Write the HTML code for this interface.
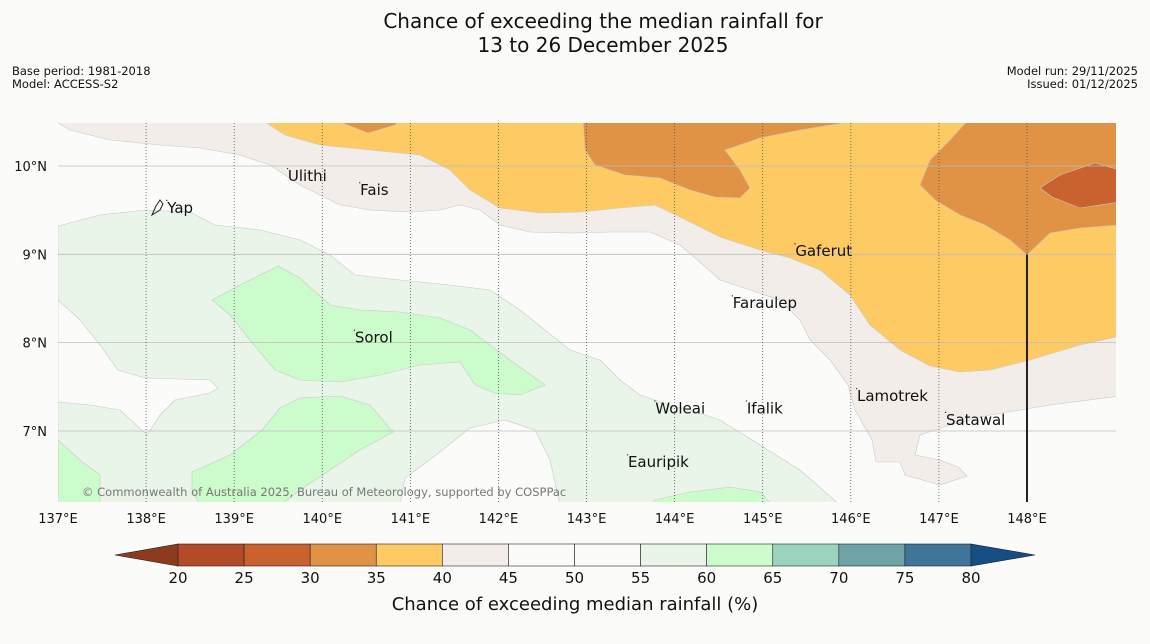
<!DOCTYPE html>
<html><head><meta charset="utf-8">
<style>
body{margin:0;background:#fbfcfa;}
svg{display:block;font-family:"DejaVu Sans","Liberation Sans",sans-serif;}
</style></head>
<body>
<svg id="chart" width="1150" height="644" viewBox="0 0 1150 644" xmlns="http://www.w3.org/2000/svg">
<rect width="1150" height="644" fill="#fbfcfa"/>
<text x="603" y="28" text-anchor="middle" font-size="20" fill="#111">Chance of exceeding the median rainfall for</text>
<text x="603" y="52" text-anchor="middle" font-size="20" fill="#111">13 to 26 December 2025</text>
<text x="12" y="75" font-size="11.5" fill="#111">Base period: 1981-2018</text>
<text x="12" y="88" font-size="11.5" fill="#111">Model: ACCESS-S2</text>
<text x="1138" y="75" text-anchor="end" font-size="11.5" fill="#111">Model run: 29/11/2025</text>
<text x="1138" y="88" text-anchor="end" font-size="11.5" fill="#111">Issued: 01/12/2025</text>
<defs><clipPath id="mapclip"><rect x="58" y="123" width="1058" height="379"/></clipPath></defs>
<g id="map" clip-path="url(#mapclip)"></g>
<g id="overlay"></g>
<g id="cbar"></g>
<text x="575" y="610" text-anchor="middle" font-size="18" fill="#111">Chance of exceeding median rainfall (%)</text>
</svg>
<script>
const NS="http://www.w3.org/2000/svg";
// axis data
const lonTicks=[137,138,139,140,141,142,143,144,145,146,147,148];
const latTicks=[7,8,9,10];
const cbarBounds=[20,25,30,35,40,45,50,55,60,65,70,75,80];
const cbarColors=["#b34b29","#c9622f","#e09245","#fdca63","#f2ede8","#fbfcfa","#fbfcfa","#e9f5e9","#ccfccc","#9bd3bc","#6fa3a8","#3e7599"];
// projection
function X(lon){return 58+(lon-137)*88.09;}
function Y(lat){return 166+(10-lat)*88.33;}
function P(px,py){return [137+(px-58)/88.09,10-(py-166)/88.33];}
// contour regions
const r5560=[[58,226],[100,215],[145,210],[190,212],[215,225],[260,230],[300,240],[330,255],[355,275],[400,280],[450,285],[490,290],[520,310],[545,330],[570,350],[600,360],[620,380],[640,395],[670,405],[690,410],[720,420],[760,445],[800,470],[840,505],[58,505]].map(p=>P(p[0],p[1]));
const rWhite1=[[58,300],[80,320],[100,345],[118,370],[145,378],[210,380],[218,388],[210,393],[175,400],[160,415],[147,435],[120,410],[90,405],[58,402]].map(p=>P(p[0],p[1]));
const rWhite2=[[405,478],[440,452],[470,428],[505,420],[535,430],[550,460],[560,505],[400,505]].map(p=>P(p[0],p[1]));
const g1=[[212,300],[240,285],[278,266],[300,278],[330,305],[360,310],[400,312],[440,318],[470,330],[510,360],[545,385],[520,395],[495,393],[475,385],[460,362],[420,365],[380,375],[340,382],[300,380],[275,370],[250,340],[230,315]].map(p=>P(p[0],p[1]));
const g2=[[192,472],[230,455],[262,430],[280,408],[300,398],[340,396],[370,405],[393,432],[360,450],[330,470],[300,490],[280,505],[200,505],[192,490]].map(p=>P(p[0],p[1]));
const g3=[[58,440],[80,460],[100,475],[100,505],[58,505]].map(p=>P(p[0],p[1]));
const g4=[[655,500],[690,492],[730,487],[760,492],[772,505],[650,505]].map(p=>P(p[0],p[1]));
const beige=[[55,120],[58,123],[70,130],[110,140],[160,145],[200,148],[240,155],[270,165],[300,185],[320,195],[340,205],[370,210],[410,212],[440,210],[460,205],[480,210],[500,225],[530,232],[570,233],[610,232],[650,232],[680,245],[700,262],[720,280],[750,290],[780,300],[800,320],[810,340],[830,360],[848,385],[855,410],[872,440],[876,462],[900,462],[905,475],[940,485],[967,476],[958,467],[940,460],[915,455],[920,435],[950,425],[990,415],[1050,405],[1120,396],[1120,120]].map(p=>P(p[0],p[1]));
const orange=[[262,120],[285,135],[320,145],[370,150],[420,155],[450,170],[470,190],[500,208],[540,213],[580,212],[620,208],[655,205],[690,222],[720,237],[760,250],[790,258],[820,270],[850,295],[870,325],[900,350],[930,366],[960,372],[990,370],[1030,360],[1080,345],[1120,336],[1120,120]].map(p=>P(p[0],p[1]));
const dark1=[[342,120],[345,124],[368,133],[395,125],[400,120]].map(p=>P(p[0],p[1]));
const dark2=[[583,120],[585,150],[595,165],[625,175],[660,178],[690,190],[715,197],[740,198],[750,188],[740,170],[725,150],[760,138],[800,130],[862,120]].map(p=>P(p[0],p[1]));
const dark3=[[968,120],[950,140],[930,160],[920,185],[935,200],[960,215],[985,225],[1010,240],[1027,255],[1050,233],[1080,228],[1120,225],[1120,120]].map(p=>P(p[0],p[1]));
const red1=[[1040,188],[1060,175],[1095,163],[1120,170],[1120,202],[1080,208],[1052,197]].map(p=>P(p[0],p[1]));
const regions=[["contour-55-60",r5560,"#e9f5e9"],["contour-white-west",rWhite1,"#fbfcfa"],["contour-white-south",rWhite2,"#fbfcfa"],["contour-60-65-a",g1,"#ccfccc"],["contour-60-65-b",g2,"#ccfccc"],["contour-60-65-c",g3,"#ccfccc"],["contour-60-65-d",g4,"#ccfccc"],["contour-40-45",beige,"#f2ede8"],["contour-35-40",orange,"#fdca63"],["contour-30-35-a",dark1,"#e09245"],["contour-30-35-b",dark2,"#e09245"],["contour-30-35-c",dark3,"#e09245"],["contour-25-30",red1,"#c9622f"]];
const places=[["Ulithi",139.61,9.83],["Fais",140.43,9.67],["Yap",138.24,9.47],["Gaferut",145.37,8.98],["Faraulep",144.66,8.39],["Sorol",140.37,8.00],["Lamotrek",146.07,7.34],["Satawal",147.08,7.07],["Woleai",143.78,7.20],["Ifalik",144.82,7.20],["Eauripik",143.47,6.59]];
const map=document.getElementById('map');
function mk(tag,attrs,parent){const e=document.createElementNS(NS,tag);for(const k in attrs)e.setAttribute(k,attrs[k]);parent.appendChild(e);return e;}
for(const [nm,pts,col] of regions){
  const e=mk('polygon',{points:pts.map(p=>X(p[0]).toFixed(1)+','+Y(p[1]).toFixed(1)).join(' '),fill:col,stroke:'#c8c8c8','stroke-width':'0.6'},map);
  
  
}
for(const lat of latTicks){
  const l=mk('line',{x1:58,x2:1116,y1:Y(lat),y2:Y(lat),stroke:'#bdbdbd','stroke-width':'0.8'},map);
  
  
  const t=mk('text',{x:47,y:Y(lat)+5,'text-anchor':'end','font-size':'13',fill:'#111'},document.getElementById('overlay'));
  t.textContent=lat+'°N';
  
  
}
for(const lon of lonTicks){
  if(lon>137){
    const l=mk('line',{x1:X(lon),x2:X(lon),y1:123,y2:502,stroke:'#555','stroke-width':'0.8','stroke-dasharray':'1,2'},map);
    
    
  }
  const t=mk('text',{x:X(lon),y:523,'text-anchor':'middle','font-size':'13',fill:'#111'},document.getElementById('overlay'));
  t.textContent=lon+'°E';
  
  
}
const bl=mk('line',{x1:X(148),x2:X(148),y1:Y(9),y2:502,stroke:'#222','stroke-width':'2'},map);


const yap=mk('path',{d:'M152,215 L156,206 L160,200 L163,204 L160,210 Z',fill:'none',stroke:'#222','stroke-width':'1'},map);


for(const [n,lon,lat] of places){
  const d=mk('rect',{x:X(lon)-1,y:Y(lat)-13,width:1.2,height:1.2,fill:'#333'},map);
  
  
  const t=mk('text',{x:X(lon),y:Y(lat),'font-size':'15',fill:'#111'},map);
  t.textContent=n;
  
  
}
const cp=mk('text',{x:82,y:496,'font-size':'11.5',fill:'#777'},map);
cp.textContent='© Commonwealth of Australia 2025, Bureau of Meteorology, supported by COSPPac';


// colorbar
const cb=document.getElementById('cbar');
const cx0=178,cx1=971,cy=544,ch=22;
function CX(v){return cx0+(v-20)/(80-20)*(cx1-cx0);}
for(let i=0;i<cbarColors.length;i++){
  const r=mk('rect',{x:CX(cbarBounds[i]),y:cy,width:CX(cbarBounds[i+1])-CX(cbarBounds[i]),height:ch,fill:cbarColors[i],stroke:'#222','stroke-width':'0.6'},cb);
  
  
}
const tl=mk('polygon',{points:`${cx0},${cy} ${cx0},${cy+ch} 115,${cy+ch/2}`,fill:'#8e3a1f',stroke:'#222','stroke-width':'0.6'},cb);


const tr=mk('polygon',{points:`${cx1},${cy} ${cx1},${cy+ch} 1035,${cy+ch/2}`,fill:'#154e85',stroke:'#222','stroke-width':'0.6'},cb);


for(const v of cbarBounds){
  const t=mk('text',{x:CX(v),y:583,'text-anchor':'middle','font-size':'15',fill:'#111'},cb);
  t.textContent=v;
  
  
}
</script>
</body></html>
